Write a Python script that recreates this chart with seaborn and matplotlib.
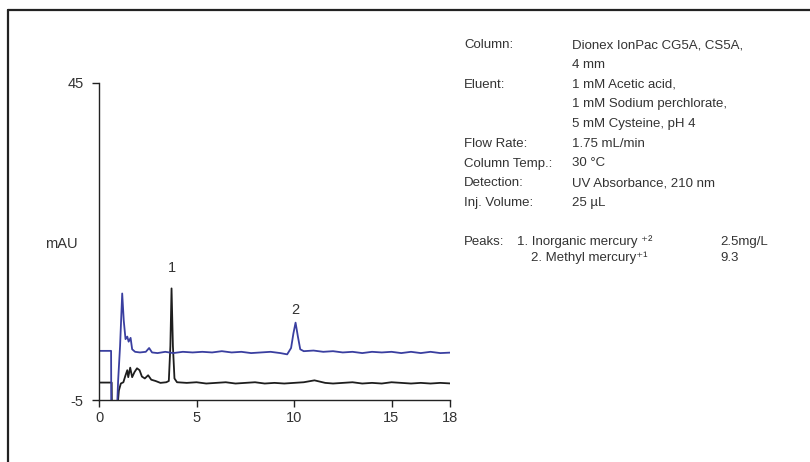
import matplotlib
matplotlib.use("Agg")
import matplotlib.pyplot as plt
import seaborn as sns
import pandas as pd
from matplotlib.lines import Line2D

# trace points (minutes, mAU)
blue_t = [0.0, 0.62, 0.63, 0.93, 0.98, 1.08, 1.19, 1.27, 1.36, 1.45, 1.52, 1.62, 1.7, 1.85,
          2.1, 2.4, 2.57, 2.72, 3.0, 3.4, 3.8, 4.3, 4.8, 5.3, 5.8, 6.3, 6.8, 7.3, 7.8, 8.3,
          8.8, 9.3, 9.65, 9.85, 9.97, 10.08, 10.2, 10.32, 10.5, 11.0, 11.5, 12.0, 12.5,
          13.0, 13.5, 14.0, 14.5, 15.0, 15.5, 16.0, 16.5, 17.0, 17.5, 18.2]
blue_y = [2.75, 2.75, -6.0, -6.0, -2.0, 3.5, 11.8, 7.5, 4.6, 5.0, 4.2, 4.8, 3.0, 2.6,
          2.5, 2.6, 3.2, 2.5, 2.4, 2.6, 2.4, 2.6, 2.5, 2.6, 2.5, 2.7, 2.5, 2.6, 2.4, 2.5,
          2.6, 2.4, 2.2, 3.2, 5.5, 7.2, 5.0, 3.0, 2.7, 2.8, 2.6, 2.7, 2.5,
          2.6, 2.4, 2.6, 2.5, 2.6, 2.4, 2.6, 2.4, 2.6, 2.4, 2.5]

black_t = [0.0, 0.65, 0.66, 0.95, 1.02, 1.12, 1.25, 1.35, 1.45, 1.5, 1.6, 1.7, 1.82, 1.95,
           2.08, 2.2, 2.35, 2.52, 2.68, 2.9, 3.15, 3.45, 3.58, 3.66, 3.72, 3.79, 3.87, 4.0,
           4.5, 5.0, 5.5, 6.0, 6.5, 7.0, 7.5, 8.0, 8.5, 9.0, 9.5, 10.0, 10.5, 11.05, 11.6,
           12.0, 12.5, 13.0, 13.5, 14.0, 14.5, 15.0, 15.5, 16.0, 16.5, 17.0, 17.5, 18.1]
black_y = [-2.25, -2.25, -6.0, -6.0, -3.5, -2.4, -2.2, -1.2, -0.3, -1.4, 0.1, -1.4, -0.6, 0.0,
           -0.3, -1.3, -1.6, -1.1, -1.8, -2.0, -2.3, -2.2, -2.0, 3.5, 12.6, 3.5, -1.6, -2.2,
           -2.3, -2.2, -2.4, -2.3, -2.2, -2.4, -2.3, -2.2, -2.4, -2.3, -2.4, -2.3, -2.2, -1.9, -2.3,
           -2.4, -2.3, -2.2, -2.4, -2.3, -2.4, -2.2, -2.3, -2.4, -2.3, -2.4, -2.3, -2.4]

peak_labels = ["1", "2"]
peak_x = [3.72, 10.08]
peak_y = [15.8, 9.2]

x_ticks = [0, 5, 10, 15, 18]
y_ticks = [-5, 45]

cond_labels = ["Column:", "", "Eluent:", "", "", "Flow Rate:", "Column Temp.:",
               "Detection:", "Inj. Volume:"]
cond_values = ["Dionex IonPac CG5A, CS5A,", "4 mm", "1 mM Acetic acid,",
               "1 mM Sodium perchlorate,", "5 mM Cysteine, pH 4", "1.75 mL/min",
               "30 \u00b0C", "UV Absorbance, 210 nm", "25 \u00b5L"]
peak_names = ["1. Inorganic mercury \u207a\u00b2", "2. Methyl mercury\u207a\u00b9"]
peak_conc = ["2.5mg/L", "9.3"]

sns.set_style("white")
plt.rcParams['font.family'] = ['Liberation Sans', 'DejaVu Sans']
plt.rcParams['axes.unicode_minus'] = False

txt = "#333333"
fig = plt.figure(figsize=(8.1, 4.62), dpi=100)
ax = fig.add_axes([99 / 810, 62 / 462, 351 / 810, 317 / 462])

df_b = pd.DataFrame({"t": blue_t, "y": blue_y})
df_k = pd.DataFrame({"t": black_t, "y": black_y})
sns.lineplot(data=df_k, x="t", y="y", ax=ax, color="#1e1e1e", lw=1.3,
             sort=False, estimator=None)
sns.lineplot(data=df_b, x="t", y="y", ax=ax, color="#3a3fa0", lw=1.3,
             sort=False, estimator=None)

for lab, px, py in zip(peak_labels, peak_x, peak_y):
    ax.text(px, py, lab, ha="center", va="center", fontsize=10.5, color=txt)

ax.set_xlim(0, 18)
ax.set_ylim(-5, 45)
ax.set_xticks(x_ticks)
ax.set_yticks(y_ticks)
ax.set_xlabel("")
ax.set_ylabel("")
ax.text(-0.108, 0.493, "mAU", transform=ax.transAxes, ha="center", va="center",
        fontsize=10.5, color=txt)
sns.despine(ax=ax)
for s in ["left", "bottom"]:
    ax.spines[s].set_color("#222222")
    ax.spines[s].set_linewidth(1.0)
ax.tick_params(axis="both", direction="out", length=5, width=1.0, color="#222222",
               labelsize=10.5, labelcolor=txt, bottom=True, left=True)
ax.tick_params(axis="y", pad=6)
ax.tick_params(axis="x", pad=3)

# conditions block
for i, (lab, val) in enumerate(zip(cond_labels, cond_values)):
    yy = 1 - (45 + i * 19.75) / 462
    fig.text(464 / 810, yy, lab, fontsize=9.5, color=txt, va="center")
    fig.text(572 / 810, yy, val, fontsize=9.5, color=txt, va="center")

fig.text(464 / 810, 1 - 242 / 462, "Peaks:", fontsize=9.5, color=txt, va="center")
for i, (nm, cc) in enumerate(zip(peak_names, peak_conc)):
    yy = 1 - (242 + i * 16) / 462
    xx = 517 / 810 if i == 0 else 531 / 810
    fig.text(xx, yy, nm, fontsize=9.5, color=txt, va="center")
    fig.text(720 / 810, yy, cc, fontsize=9.5, color=txt, va="center")

# frame edges seen at the top and left of the picture
fig.add_artist(Line2D([8 / 810, 1.0], [1 - 10 / 462, 1 - 10 / 462], color="#222222", lw=1.6))
fig.add_artist(Line2D([8 / 810, 8 / 810], [0.0, 1 - 10 / 462], color="#222222", lw=1.6))

fig.savefig("out.png", dpi=100)
